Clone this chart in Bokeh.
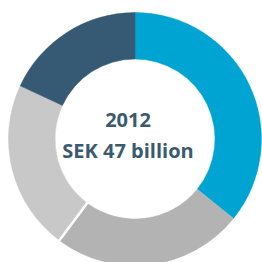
import math
from bokeh.plotting import figure
from bokeh.models import Range1d, ColumnDataSource
from bokeh.core.properties import value
from bokeh.embed import file_html
from bokeh.resources import INLINE

# Data (shares of SEK 47 billion)
segments = ["Segment A", "Segment B", "Segment C", "Segment D"]
shares = [35.8, 24.4, 21.7, 18.1]
colors = ["#00A4D3", "#B3B3B3", "#C8C8C8", "#375A74"]
title_year = "2012"
title_total = "SEK 47 billion"

total = sum(shares)
starts, ends = [], []
cum = 0.0
for s in shares:
    starts.append(math.pi / 2 - cum / total * 2 * math.pi)
    cum += s
    ends.append(math.pi / 2 - cum / total * 2 * math.pi)

src = ColumnDataSource(dict(seg=segments, share=shares, start=starts, end=ends, color=colors))

p = figure(width=262, height=262, output_backend="svg", toolbar_location=None,
           x_range=Range1d(-134.5, 127.5), y_range=Range1d(-123.5, 138.5),
           min_border=0)
p.axis.visible = False
p.grid.visible = False
p.outline_line_color = None
p.background_fill_color = "white"
p.border_fill_color = "white"

p.annular_wedge(x=0, y=0, inner_radius=80, outer_radius=126.5,
                start_angle="start", end_angle="end", direction="clock",
                color="color", line_color="color", line_width=0.5, source=src)

# white separator between the second and third segments
a = ends[1]
p.segment(x0=[78 * math.cos(a)], y0=[78 * math.sin(a)],
          x1=[130 * math.cos(a)], y1=[130 * math.sin(a)],
          line_color="white", line_width=2.5)

p.text(x=[-7], y=[19.5], text=[title_year], text_align="center", text_baseline="middle",
       text_font=value("Open Sans"), text_font_style="bold", text_font_size="20px",
       text_color="#3B5A72")
p.text(x=[-7], y=[-11.5], text=[title_total], text_align="center", text_baseline="middle",
       text_font=value("Open Sans"), text_font_style="bold", text_font_size="20px",
       text_color="#3B5A72")

open("out.html", "w").write(file_html(p, INLINE))
